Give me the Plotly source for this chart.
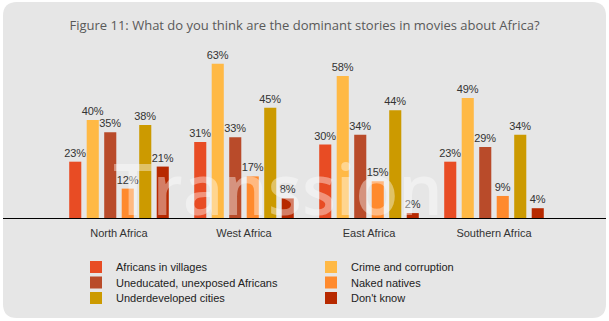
import plotly.graph_objects as go

regions = ["North Africa", "West Africa", "East Africa", "Southern Africa"]
series_names = ["Africans in villages", "Crime and corruption", "Uneducated, unexposed Africans",
                "Naked natives", "Underdeveloped cities", "Don't know"]
villages = [23, 31, 30, 23]
crime = [40, 63, 58, 49]
uneducated = [35, 33, 34, 29]
naked = [12, 17, 15, 9]
cities = [38, 45, 44, 34]
dont_know = [21, 8, 2, 4]
colors = ["#E84C24", "#FFB945", "#B94B2A", "#FF8A2D", "#CC9A00", "#B72900"]
title_text = "Figure 11: What do you think are the dominant stories in movies about Africa?"

W, H = 609, 321
L, R, T, B = 3, 3, 40, 103
PW, PH = W - L - R, H - T - B

def px2x(px):
    return (px - L) / PW

def py2y(py):
    return (H - B - py) / PH

legend_ids = ["legend", "legend", "legend2", "legend2", "legend3", "legend3"]

fig = go.Figure()
for name, vals, col, lg in zip(series_names, [villages, crime, uneducated, naked, cities, dont_know],
                               colors, legend_ids):
    fig.add_trace(go.Bar(
        x=regions, y=vals, name=name, marker_color=col, marker_line_width=0,
        text=[f"{v}%" for v in vals], textposition="outside", cliponaxis=False,
        constraintext="none", legend=lg,
        textfont=dict(family="Liberation Sans", size=11, color="#333333"),
    ))

# rounded card background
x0, y0, x1, y1, r = 3, 2, 606, 318, 14
def P(px, py):
    return f"{px2x(px):.5f},{py2y(py):.5f}"
path = (f"M{P(x0 + r, y0)} L{P(x1 - r, y0)} Q{P(x1, y0)} {P(x1, y0 + r)} "
        f"L{P(x1, y1 - r)} Q{P(x1, y1)} {P(x1 - r, y1)} L{P(x0 + r, y1)} "
        f"Q{P(x0, y1)} {P(x0, y1 - r)} L{P(x0, y0 + r)} Q{P(x0, y0)} {P(x0 + r, y0)} Z")
fig.add_shape(type="path", path=path, xref="paper", yref="paper",
              fillcolor="#E6E6E6", line_width=0, layer="below")

fig.add_annotation(text="Transsion", x=px2x(278), y=py2y(188), xref="paper", yref="paper",
                   showarrow=False, xanchor="center", yanchor="middle",
                   font=dict(family="Open Sans", size=70, weight=600, color="rgba(255,255,255,0.4)"))

leg_common = dict(orientation="h", xanchor="left", yanchor="middle",
                  entrywidth=190, entrywidthmode="pixels", bgcolor="rgba(0,0,0,0)",
                  font=dict(family="Liberation Sans", size=11, color="#222222"),
                  itemwidth=30, traceorder="normal")

fig.update_layout(
    width=W, height=H,
    margin=dict(l=L, r=R, t=T, b=B, pad=0, autoexpand=False),
    paper_bgcolor="white", plot_bgcolor="rgba(0,0,0,0)",
    barmode="group", bargap=0.16, bargroupgap=0.31,
    title=dict(text=title_text, x=0.5, xanchor="center", y=1 - 25 / H, yanchor="middle",
               font=dict(family="Open Sans", size=13, color="#595959")),
    xaxis=dict(range=[-0.928, 3.896], showgrid=False, showline=True, linecolor="#000000",
               linewidth=1.3, ticks="outside", ticklen=5, tickcolor="rgba(0,0,0,0)",
               tickfont=dict(family="Liberation Sans", size=11, color="#333333"), fixedrange=True),
    yaxis=dict(range=[0, 72.7], visible=False, showgrid=False, zeroline=False),
    showlegend=True,
    legend=dict(x=px2x(76), y=py2y(267), **leg_common),
    legend2=dict(x=px2x(76), y=py2y(282.5), **leg_common),
    legend3=dict(x=px2x(76), y=py2y(298), **leg_common),
)

fig.write_html("out.html")
